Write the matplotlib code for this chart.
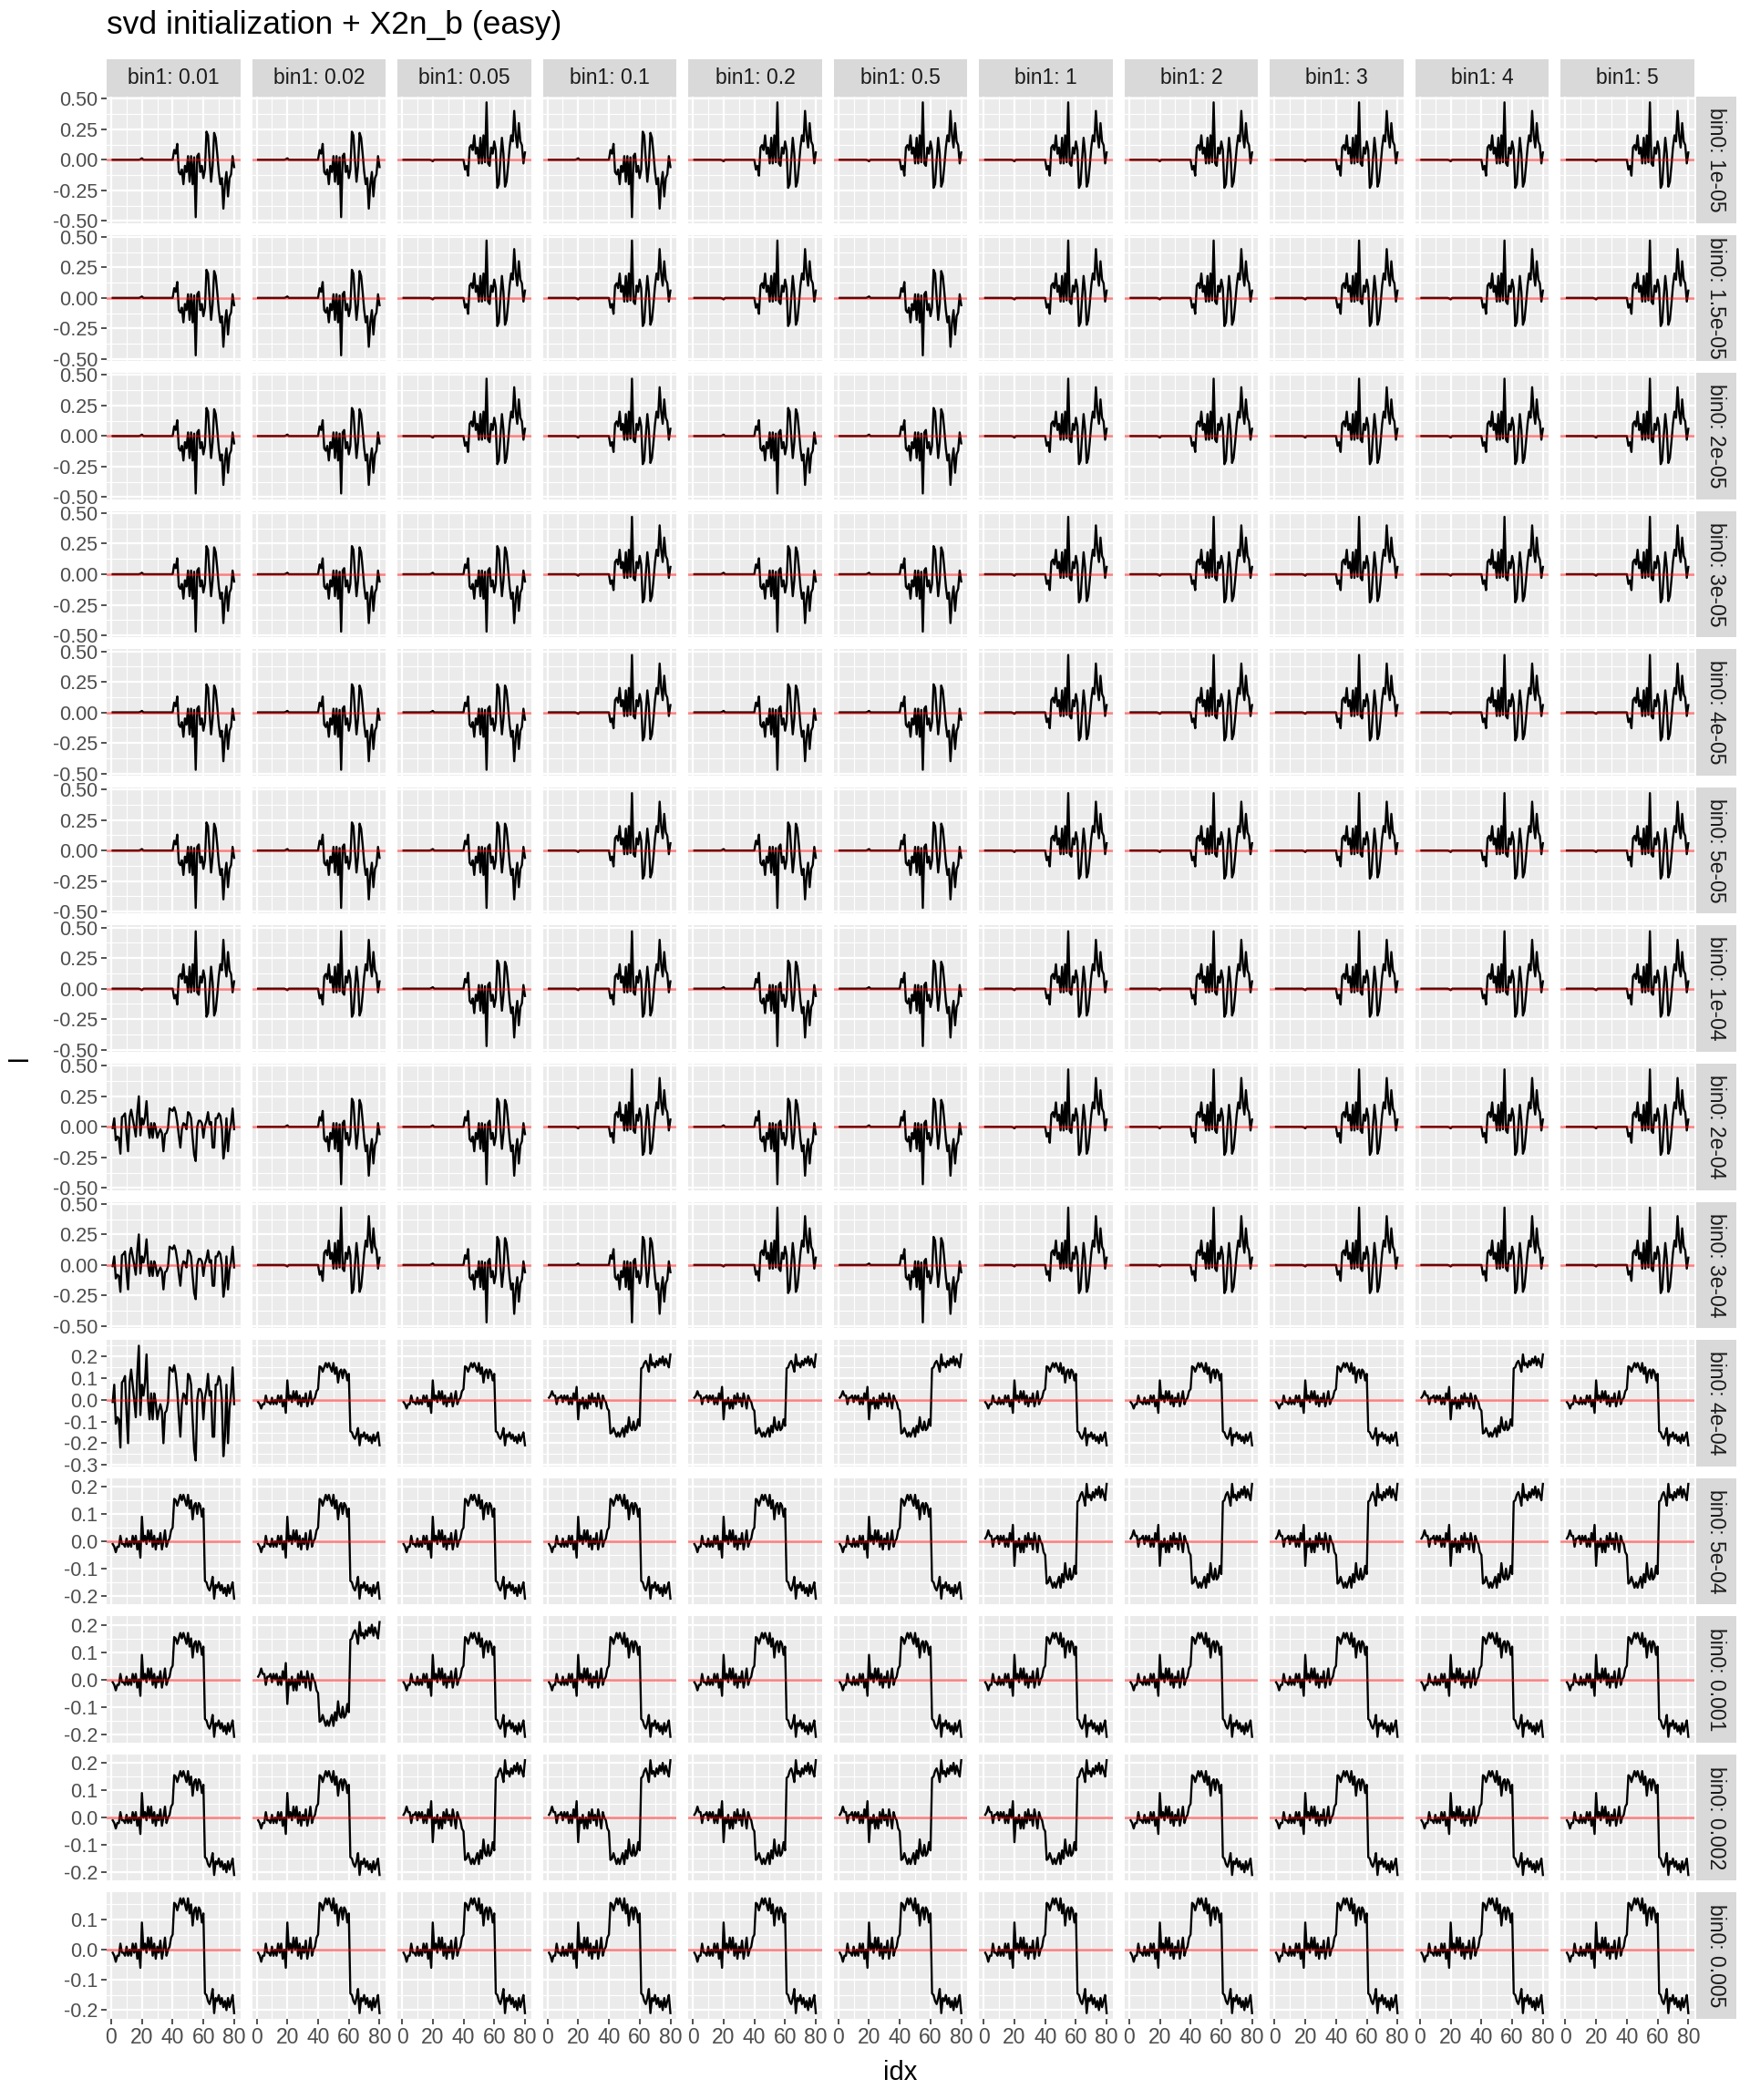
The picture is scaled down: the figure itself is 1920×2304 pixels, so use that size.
import numpy as np
import matplotlib
matplotlib.use("Agg")
import matplotlib.pyplot as plt

plt.rcParams["font.family"] = ["Liberation Sans", "DejaVu Sans"]
plt.rcParams["axes.unicode_minus"] = False

W, H, DPI = 1920, 2304, 100

TITLE = "svd initialization + X2n_b (easy)"
BIN1 = ["0.01", "0.02", "0.05", "0.1", "0.2", "0.5", "1", "2", "3", "4", "5"]
BIN0 = ["1e-05", "1.5e-05", "2e-05", "3e-05", "4e-05", "5e-05", "1e-04",
        "2e-04", "3e-04", "4e-04", "5e-04", "0.001", "0.002", "0.005"]

IDX = np.arange(1, 81)

# sparse component (rows bin0 <= 3e-04)
SPARSE = [
    0.0, 0.0, 0.0, 0.0, 0.0, 0.0, 0.0, 0.0, 0.0, 0.0,
    0.0, 0.0, 0.0, 0.0, 0.0, 0.0, 0.0, 0.0, 0.004, 0.012,
    0.0, 0.0, 0.0, 0.0, 0.0, 0.0, 0.0, 0.0, 0.0, 0.0,
    0.0, 0.0, 0.0, 0.0, 0.0, 0.0, 0.0, 0.0, 0.0, 0.0,
    0.08, 0.05, 0.13, -0.10, -0.12, -0.08, -0.20, -0.05, -0.10, 0.03,
    -0.18, 0.03, -0.20, 0.02, -0.47, 0.03, 0.05, -0.10, -0.05, -0.15,
    -0.08, 0.23, 0.20, 0.00, -0.18, -0.05, 0.22, 0.18, 0.05, -0.10,
    -0.20, -0.15, -0.40, -0.20, -0.10, -0.30, -0.15, -0.12, 0.03, -0.06,
]

# noisy component (bin1 = 0.01, bin0 2e-04 .. 4e-04)
NOISE = [
    -0.01, 0.07, -0.11, -0.08, -0.09, -0.22, 0.08, 0.09, 0.11, -0.06,
    -0.20, 0.08, 0.14, 0.07, 0.00, -0.08, 0.12, 0.25, -0.07, 0.07,
    0.02, 0.08, 0.21, 0.00, -0.09, 0.03, -0.09, 0.03, -0.01, -0.09,
    -0.05, -0.02, -0.05, -0.20, -0.06, -0.05, -0.01, 0.15, 0.14, 0.13,
    0.16, 0.12, 0.04, -0.07, -0.17, -0.02, 0.03, 0.02, -0.02, 0.12,
    0.11, 0.07, -0.09, -0.23, -0.28, 0.00, 0.05, 0.05, 0.03, -0.09,
    0.01, 0.05, 0.12, 0.02, 0.04, -0.17, -0.17, 0.07, 0.07, 0.11,
    0.09, 0.00, -0.26, -0.17, 0.07, -0.20, -0.04, 0.03, 0.15, -0.02,
]

# step component (rows bin0 >= 4e-04)
STEP = [
    -0.01, -0.02, -0.04, -0.02, -0.02, 0.02, -0.01, -0.01, -0.02, 0.01,
    -0.02, 0.00, -0.02, 0.02, -0.01, 0.02, -0.03, 0.00, -0.06, 0.09,
    0.00, 0.02, -0.01, 0.04, 0.00, 0.04, -0.02, 0.02, -0.03, 0.01,
    -0.01, 0.03, -0.03, 0.00, 0.04, -0.02, 0.00, 0.01, 0.04, 0.05,
    0.155, 0.15, 0.13, 0.15, 0.17, 0.15, 0.17, 0.15, 0.13, 0.17,
    0.12, 0.15, 0.08, 0.13, 0.14, 0.10, 0.14, 0.13, 0.09, 0.12,
    -0.145, -0.15, -0.17, -0.18, -0.16, -0.13, -0.21, -0.16, -0.17, -0.15,
    -0.18, -0.16, -0.19, -0.17, -0.20, -0.16, -0.19, -0.17, -0.15, -0.21,
]

BASES = {"A": SPARSE, "N": NOISE, "S": STEP}

# which component (and sign) each panel shows, one list per bin0 row
PANELS = [
    ["A", "A", "-A", "A", "-A", "-A", "-A", "-A", "-A", "-A", "-A"],
    ["A", "A", "-A", "-A", "-A", "A", "-A", "-A", "-A", "-A", "-A"],
    ["A", "A", "-A", "-A", "A", "A", "-A", "-A", "-A", "-A", "-A"],
    ["A", "A", "A", "-A", "A", "A", "-A", "-A", "-A", "-A", "-A"],
    ["A", "A", "A", "-A", "A", "A", "-A", "-A", "-A", "-A", "-A"],
    ["A", "A", "A", "-A", "A", "A", "-A", "-A", "-A", "-A", "-A"],
    ["-A", "-A", "A", "-A", "A", "A", "-A", "-A", "-A", "-A", "-A"],
    ["N", "A", "A", "-A", "A", "A", "-A", "-A", "-A", "-A", "-A"],
    ["N", "-A", "A", "A", "-A", "A", "-A", "-A", "-A", "-A", "-A"],
    ["N", "S", "S", "-S", "-S", "-S", "S", "S", "S", "-S", "S"],
    ["S", "S", "S", "S", "S", "S", "-S", "-S", "-S", "-S", "-S"],
    ["S", "-S", "S", "S", "S", "S", "S", "S", "S", "S", "S"],
    ["S", "S", "-S", "-S", "-S", "-S", "-S", "S", "S", "S", "S"],
    ["S", "S", "S", "S", "S", "S", "S", "S", "S", "S", "S"],
]


def series(code):
    sign = -1.0 if code.startswith("-") else 1.0
    return sign * np.array(BASES[code.lstrip("-")])


def breaks_for(lo, hi):
    step = 0.25 if hi - lo > 0.7 else 0.1
    b = np.arange(np.ceil(lo / step) * step, hi + 1e-9, step)
    b = np.round(b, 3)
    minor = list((b[:-1] + b[1:]) / 2)
    if b[0] - step / 2 > lo:
        minor.append(b[0] - step / 2)
    if b[-1] + step / 2 < hi:
        minor.append(b[-1] + step / 2)
    return b, minor, step


fig = plt.figure(figsize=(W / DPI, H / DPI), dpi=DPI)

L, R, T, B, G = 117, 1859, 106, 2215, 13
ncol, nrow = len(BIN1), len(BIN0)
pw = (R - L - (ncol - 1) * G) / ncol
ph = (B - T - (nrow - 1) * G) / nrow
STRIP = 41

BG = "#EBEBEB"
STRIP_BG = "#D9D9D9"
TICK_C = "#333333"
LAB_C = "#4D4D4D"
FS = 16.5
TICK_FS = 15.5


def frect(x0, y0, w, h):
    return [x0 / W, 1 - (y0 + h) / H, w / W, h / H]


def strip_axes(rect, label, rot):
    sax = fig.add_axes(rect)
    sax.set_facecolor(STRIP_BG)
    sax.set_xticks([])
    sax.set_yticks([])
    for s in sax.spines.values():
        s.set_visible(False)
    sax.text(0.5, 0.5, label, ha="center", va="center", rotation=rot,
             fontsize=FS, color="#1A1A1A", transform=sax.transAxes)


xlim = (1 - 0.05 * 79, 80 + 0.05 * 79)

for r in range(nrow):
    row_data = [series(c) for c in PANELS[r]]
    lo = min(d.min() for d in row_data)
    hi = max(d.max() for d in row_data)
    pad = 0.05 * (hi - lo)
    ylo, yhi = lo - pad, hi + pad
    major, minor, step = breaks_for(ylo, yhi)

    for c in range(ncol):
        x0 = L + c * (pw + G)
        y0 = T + r * (ph + G)
        ax = fig.add_axes(frect(x0, y0, pw, ph))
        ax.set_facecolor(BG)
        for s in ax.spines.values():
            s.set_visible(False)

        for v in [10, 30, 50, 70]:
            ax.axvline(v, color="white", lw=0.8, zorder=0)
        for v in minor:
            ax.axhline(v, color="white", lw=0.8, zorder=0)
        for v in [0, 20, 40, 60, 80]:
            ax.axvline(v, color="white", lw=1.6, zorder=0)
        for v in major:
            ax.axhline(v, color="white", lw=1.6, zorder=0)

        ax.plot(IDX, row_data[c], color="black", lw=1.7, zorder=2)
        ax.axhline(0, color="red", lw=1.8, alpha=0.5, zorder=3)

        ax.set_xlim(*xlim)
        ax.set_ylim(ylo, yhi)
        ax.set_xticks([0, 20, 40, 60, 80])
        ax.set_yticks(major)
        ax.tick_params(length=4.3, width=1.2, color=TICK_C, labelcolor=LAB_C,
                       labelsize=FS, pad=2.5)
        if c == 0:
            fmt = "{:.2f}" if step == 0.25 else "{:.1f}"
            ax.set_yticklabels([fmt.format(v + 0.0) for v in major])
            ax.tick_params(axis="y", labelsize=TICK_FS)
        else:
            ax.tick_params(axis="y", length=0, labelleft=False)
        if r == nrow - 1:
            ax.set_xticklabels(["0", "20", "40", "60", "80"])
        else:
            ax.tick_params(axis="x", length=0, labelbottom=False)

        if r == 0:
            strip_axes(frect(x0, T - STRIP, pw, STRIP), f"bin1: {BIN1[c]}", 0)

    y0 = T + r * (ph + G)
    strip_axes(frect(R + 2, y0, 44, ph), f"bin0: {BIN0[r]}", -90)

fig.text(L / W, 1 - 27 / H, TITLE, ha="left", va="center", fontsize=25.5, color="black")
fig.text((L + R) / 2 / W, 1 - 2274 / H, "idx", ha="center", va="center", fontsize=21)
fig.text(22 / W, 1 - (T + B) / 2 / H, "l", ha="center", va="center", rotation=90,
         fontsize=21)

fig.savefig("out.png", dpi=DPI, facecolor="white")
